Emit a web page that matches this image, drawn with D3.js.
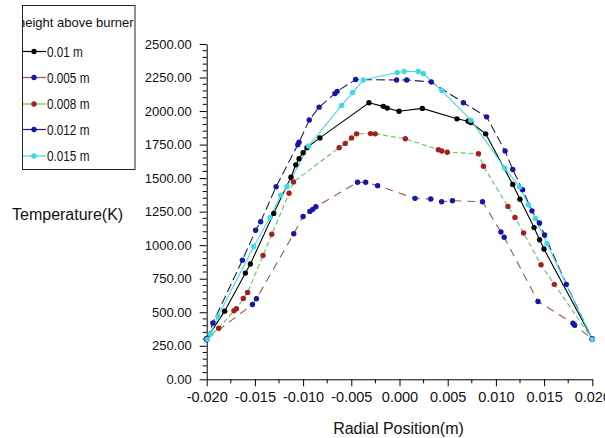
<!DOCTYPE html>
<html>
<head>
<meta charset="utf-8">
<script src="https://cdn.jsdelivr.net/npm/d3@7/dist/d3.min.js"></script>
<style>
  html, body { margin: 0; padding: 0; background: #fff; }
  svg { display: block; font-family: "Liberation Sans", Arial, sans-serif; }
</style>
</head>
<body>
<svg id="chart" width="605" height="438"></svg>
<script>
// Radial temperature profiles at several heights above the burner
const seriesNames = ["0.01 m", "-0.005 m", "-0.008 m", "0.012 m", "0.015 m"];

const r001 = [-0.0200, -0.01814, -0.01598, -0.01547, -0.01305, -0.01126, -0.01076, -0.01042, -0.0100, -0.0096, -0.00826, -0.00317, -0.00168, -0.00127, -0.00005, 0.00237, 0.00596, 0.00712, 0.0074, 0.00894, 0.01175, 0.0125, 0.01396, 0.01453, 0.01499, 0.0200];
const t001 = [305, 508, 792, 860, 1237, 1507, 1599, 1644, 1690, 1727, 1800, 2062, 2035, 2022, 1999, 2020, 1942, 1924, 1915, 1830, 1453, 1342, 1131, 1041, 971, 300];

const r0005 = [-0.0200, -0.01526, -0.01484, -0.01097, -0.0100, -0.0093, -0.0090, -0.00868, -0.00435, -0.00351, -0.00227, 0.00161, 0.00324, 0.00437, 0.00549, 0.00861, 0.01052, 0.01086, 0.01437, 0.0180, 0.01817, 0.0200];
const t0005 = [300, 558, 601, 1085, 1214, 1252, 1267, 1286, 1469, 1469, 1444, 1349, 1344, 1324, 1331, 1324, 1098, 1059, 580, 418, 403, 300];

const r0008 = [-0.0200, -0.01876, -0.01717, -0.01692, -0.0162, -0.01575, -0.01416, -0.01325, -0.01146, -0.0110, -0.00626, -0.00563, -0.00497, -0.00445, -0.0030, -0.00252, 0.0006, 0.00403, 0.00439, 0.00496, 0.00819, 0.00871, 0.01125, 0.01198, 0.01287, 0.01468, 0.01606, 0.0200];
const t0008 = [300, 381, 511, 526, 603, 648, 923, 1081, 1387, 1472, 1727, 1759, 1800, 1830, 1832, 1830, 1794, 1712, 1702, 1693, 1682, 1589, 1289, 1207, 1091, 854, 708, 300];

const r0012 = [-0.0200, -0.01936, -0.0163, -0.01492, -0.0144, -0.0128, -0.01055, -0.01042, -0.00936, -0.00834, -0.0067, -0.00647, -0.00455, -0.0003, 0.00075, 0.0033, 0.00663, 0.00904, 0.01095, 0.01175, 0.01277, 0.01374, 0.01452, 0.01505, 0.01731, 0.0200];
const t0012 = [295, 420, 888, 1111, 1175, 1436, 1749, 1767, 1933, 2029, 2130, 2147, 2235, 2232, 2232, 2217, 2062, 1957, 1703, 1564, 1414, 1256, 1165, 1076, 708, 298];

const r0015 = [-0.01994, -0.01963, -0.01884, -0.01512, -0.01343, -0.01232, -0.01167, -0.00943, -0.00601, -0.00486, -0.00376, -0.00023, 0.00047, 0.00195, 0.00247, 0.00439, 0.0074, 0.01094, 0.01247, 0.01339, 0.01409, 0.0153, 0.0200];
const t0015 = [298, 336, 469, 990, 1207, 1372, 1436, 1740, 2042, 2138, 2232, 2288, 2295, 2295, 2280, 2153, 1932, 1574, 1434, 1299, 1199, 1011, 298];

const xTickValues = [-0.020, -0.015, -0.010, -0.005, 0.000, 0.005, 0.010, 0.015, 0.020];
const yTickValues = [0, 250, 500, 750, 1000, 1250, 1500, 1750, 2000, 2250, 2500];

const styles = [
  { line: "#000000", marker: "#000000", dash: null },
  { line: "#a0544e", marker: "#1616a8", dash: "8,6" },
  { line: "#5cc45c", marker: "#a81e1e", dash: "5,3" },
  { line: "#1c1c6e", marker: "#1616a8", dash: "9,4" },
  { line: "#3ed8e6", marker: "#3ed8e6", dash: null }
];

const series = [
  { r: r001, t: t001 },
  { r: r0005, t: t0005 },
  { r: r0008, t: t0008 },
  { r: r0012, t: t0012 },
  { r: r0015, t: t0015 }
].map((s, i) => ({
  name: seriesNames[i],
  style: styles[i],
  points: s.r.map((r, j) => ({ r, t: s.t[j] }))
}));

const svg = d3.select("#chart");
const x = d3.scaleLinear().domain([-0.02, 0.02]).range([206.7, 592.3]);
const y = d3.scaleLinear().domain([0, 2500]).range([379.3, 44]);

const loc = d3.formatLocale({ decimal: ".", thousands: ",", grouping: [3], currency: ["", ""], minus: "-" });
const fx = loc.format(".3f");
const fy = loc.format(".2f");

// minor ticks
const gMinor = svg.append("g");
d3.range(0, 2501, 50).filter(v => v % 250 !== 0).forEach(v => {
  gMinor.append("line").attr("x1", x(-0.02) - 4).attr("x2", x(-0.02))
    .attr("y1", y(v)).attr("y2", y(v)).attr("stroke", "#000");
});
d3.range(-0.0175, 0.02, 0.005).forEach(v => {
  gMinor.append("line").attr("x1", x(v)).attr("x2", x(v))
    .attr("y1", y(0)).attr("y2", y(0) + 4).attr("stroke", "#000");
});

// axes
const xAxis = svg.append("g").attr("transform", `translate(0,${y(0)})`)
  .call(d3.axisBottom(x).tickValues(xTickValues).tickFormat(fx).tickSize(7).tickPadding(5).tickSizeOuter(0));
xAxis.selectAll("text").attr("font-size", 14.5).attr("fill", "#111").attr("font-family", "Liberation Sans, Arial, sans-serif");

const yAxis = svg.append("g").attr("transform", `translate(${x(-0.02)},0)`)
  .call(d3.axisLeft(y).tickValues(yTickValues).tickFormat(fy).tickSize(7).tickPadding(8).tickSizeOuter(0));
yAxis.selectAll("text").attr("font-size", 13).attr("fill", "#111").attr("font-family", "Liberation Sans, Arial, sans-serif");
svg.selectAll(".domain").attr("stroke", "#000");

// axis titles
svg.append("text").attr("x", 12).attr("y", 220).attr("font-size", 16).attr("fill", "#111")
  .text("Temperature(K)");
svg.append("text").attr("x", 398.5).attr("y", 434).attr("text-anchor", "middle").attr("font-size", 16).attr("fill", "#111")
  .text("Radial Position(m)");

// curves
const line = d3.line().x(d => x(d.r)).y(d => y(d.t));
const plot = svg.append("g");
series.forEach(s => {
  plot.append("path").datum(s.points).attr("d", line)
    .attr("fill", "none").attr("stroke", s.style.line).attr("stroke-width", 1.1)
    .attr("stroke-dasharray", s.style.dash);
});
series.forEach(s => {
  plot.selectAll(null).data(s.points).enter().append("circle")
    .attr("cx", d => x(d.r)).attr("cy", d => y(d.t)).attr("r", 2.7)
    .attr("fill", s.style.marker);
});

// legend
const lg = svg.append("g");
svg.append("clipPath").attr("id", "legclip").append("rect")
  .attr("x", 22).attr("y", 5).attr("width", 113).attr("height", 165);
lg.append("rect").attr("x", 22.5).attr("y", 5.5).attr("width", 112.5).attr("height", 164)
  .attr("fill", "#fff").attr("stroke", "#222").attr("stroke-width", 1);
lg.append("text").attr("clip-path", "url(#legclip)").attr("x", 18).attr("y", 27)
  .attr("font-size", 13).attr("fill", "#111").text("height above burner");
const rowY = [51.5, 77.5, 104, 129.5, 156];
series.forEach((s, i) => {
  const yy = rowY[i];
  lg.append("line").attr("x1", 23).attr("x2", 46).attr("y1", yy).attr("y2", yy)
    .attr("stroke", s.style.line).attr("stroke-width", 1.2);
  lg.append("circle").attr("cx", 34).attr("cy", yy).attr("r", 2.7).attr("fill", s.style.marker);
  lg.append("text").attr("transform", `translate(47,${yy + 5}) scale(0.84,1)`)
    .attr("font-size", 14).attr("fill", "#111").text(s.name.replace(/^-/, ""));
});
</script>
</body>
</html>
